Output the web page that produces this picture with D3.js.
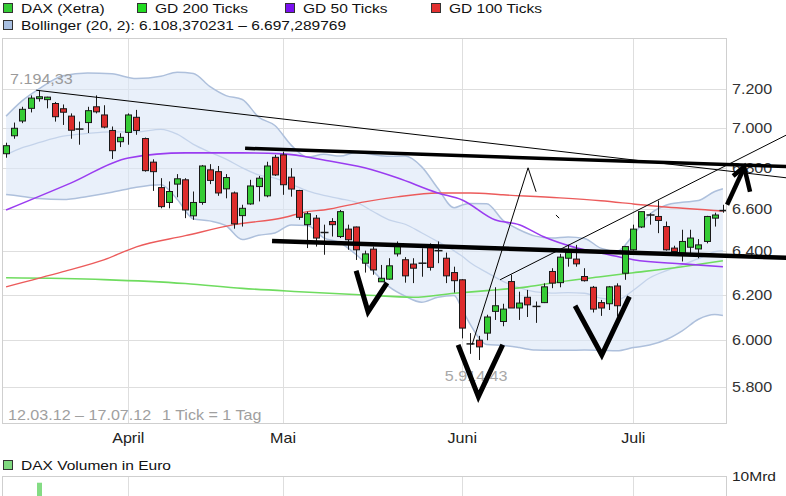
<!DOCTYPE html>
<html><head><meta charset="utf-8">
<script src="https://cdn.jsdelivr.net/npm/d3@7"></script>
<style>body{margin:0;background:#fff}svg{display:block;font-family:"Liberation Sans",Arial,sans-serif}</style>
</head><body><svg id="c" width="786" height="496"></svg>
<script>
// ---------- DATA ----------
const dates = ["12.03.","13.03.","14.03.","15.03.","16.03.","19.03.","20.03.","21.03.","22.03.","23.03.","26.03.","27.03.","28.03.","29.03.","30.03.",
"02.04.","03.04.","04.04.","05.04.","10.04.","11.04.","12.04.","13.04.","16.04.","17.04.","18.04.","19.04.","20.04.","23.04.","24.04.","25.04.","26.04.","27.04.","30.04.",
"02.05.","03.05.","04.05.","07.05.","08.05.","09.05.","10.05.","11.05.","14.05.","15.05.","16.05.","17.05.","18.05.","21.05.","22.05.","23.05.","24.05.","25.05.","28.05.","29.05.","30.05.","31.05.",
"01.06.","04.06.","05.06.","06.06.","07.06.","08.06.","11.06.","12.06.","13.06.","14.06.","15.06.","18.06.","19.06.","20.06.","21.06.","22.06.","25.06.","26.06.","27.06.","28.06.","29.06.",
"02.07.","03.07.","04.07.","05.07.","06.07.","09.07.","10.07.","11.07.","12.07.","13.07.","16.07.","17.07."];
const open  = [6870,6960,7035,7100,7150,7145,7125,7098,7060,6994,7027,7108,7066,6987,6930,6977,7054,6946,6828,6703,6631,6720,6741,6567,6631,6790,6781,6697,6677,6568,6624,6708,6663,6852,6864,6754,6689,6525,6556,6488,6540,6469,6504,6514,6345,6410,6260,6272,6388,6361,6341,6345,6422,6403,6368,6302,6269,5984,6000,6031,6127,6082,6261,6142,6190,6149,6166,6307,6256,6368,6364,6284,6235,6166,6161,6241,6299,6407,6514,6571,6564,6516,6415,6391,6419,6411,6446,6556,6592];
const high  = [6925,7027,7108,7167,7194.33,7160,7133,7120,7074,7032,7108,7167,7116,7007,6973,7074,7092,6951,6842,6749,6733,6769,6749,6684,6814,6818,6809,6769,6684,6620,6741,6760,6830,6864,6880,6798,6692,6587,6571,6525,6556,6595,6525,6516,6403,6422,6337,6368,6446,6373,6368,6414,6437,6446,6394,6329,6272,6031,6019,6112,6235,6161,6292,6215,6223,6171,6253,6322,6388,6430,6430,6322,6241,6178,6241,6253,6425,6525,6587,6579,6640,6540,6426,6501,6501,6457,6567,6582,6620];
const low   = [6850,6945,7024,7079,7135,7100,7032,7015,6945,6915,6974,7074,6998,6844,6903,6915,6965,6781,6687,6603,6603,6656,6556,6548,6620,6720,6663,6651,6506,6516,6620,6636,6656,6760,6668,6659,6548,6415,6422,6384,6469,6462,6407,6360,6302,6292,6260,6269,6376,6256,6254,6283,6311,6345,6254,6211,6008,5941,5914.43,6000,6089,6061,6142,6089,6102,6076,6164,6231,6235,6329,6329,6261,6122,6107,6133,6104,6269,6403,6509,6525,6485,6403,6391,6353,6391,6368,6437,6516,6582];
const close = [6910,6998,7095,7153,7160,7158,7057,7080,6988,6994,7088,7082,7004,6885,6952,7066,6987,6786,6781,6611,6684,6746,6595,6631,6809,6738,6677,6752,6529,6603,6711,6749,6809,6765,6717,6696,6560,6577,6462,6488,6525,6587,6454,6407,6388,6314,6276,6333,6430,6287,6322,6345,6326,6403,6287,6265,6053,5984,5971,6102,6152,6137,6142,6164,6156,6149,6237,6254,6373,6394,6342,6265,6137,6142,6237,6152,6422,6504,6587,6571,6545,6407,6399,6446,6462,6430,6564,6571,6592];
const volume = [4.6,4.9,5.1,5.3,9.2,4.2,4.4,4.1,4.5,4.3, 3.9,4.0,4.2,4.6,3.8,3.9,4.1,5.2,4.7,5.0, 4.4,4.3,4.8,4.6,4.9,4.2,4.4,4.0,4.7,6.2,
 4.5,4.3,4.8,4.6,4.4,4.2,4.9,4.5,4.7,4.1, 4.3,4.6,4.4,4.8,4.9,5.1,4.6,6.1,4.3,4.5, 4.4,4.2,4.6,4.0,4.7,4.5,5.2,5.6,4.9,4.6,
 4.4,4.2,4.3,4.1,4.4,4.0,6.6,4.5,4.8,4.6, 4.3,4.4,4.7,4.5,4.2,4.6,5.0,4.4,4.3,4.1, 4.2,4.5,4.0,3.9,4.1,4.3,4.4,4.0,3.8];

// moving averages (read at sampled trading-day indices)
const gd200Idx = [0,12,22,29,36,44,50,55,59,64,68,73,77,83,88];
const gd200    = [6278,6270,6252,6230,6215,6200,6190,6208,6220,6237,6260,6283,6301,6329,6356];
const gd50Idx  = [0,8,15,22,29,34,39,44,48,53,56,60,63,66,70,74,77,83,88];
const gd50     = [6595,6726,6849,6874,6874,6869,6839,6800,6751,6677,6643,6548,6525,6468,6416,6384,6361,6342,6329];
const gd100Idx = [0,7,12,16,22,28,34,37,39,44,48,53,57,61,68,73,77,81,88];
const gd100    = [6237,6306,6360,6421,6473,6525,6558,6587,6595,6634,6658,6677,6677,6668,6653,6639,6624,6609,6590];

// Bollinger (20,2)
const bbIdx   = [0,2,4,7,10,13,16,19,21,23,25,27,29,31,33,35,37,39,41,43,45,47,49,51,53,55,56,57,59,61,63,65,67,69,71,73,75,77,79,81,83,85,87,88];
const bbUpper = [7060,7140,7200,7270,7285,7280,7255,7267,7289,7282,7214,7166,7146,7055,7012,6913,6853,6867,6858,6877,6866,6857,6858,6806,6700,6606,6619,6626,6625,6546,6501,6471,6462,6467,6460,6415,6401,6477,6574,6618,6632,6640,6684,6697.289769];
const bbLower = [6670,6660,6650,6645,6660,6680,6705,6717,6647,6552,6543,6520,6455,6475,6486,6524,6521,6463,6440,6384,6311,6238,6195,6168,6190,6198,6135,6068,5981,5977,5968,5957,5956,5956,5957,5956,5954,5968,5979,6002,6041,6092,6113,6108.370231];
const bbMid   = [6865,6900,6925,6958,6972,6980,6980,6992,6968,6917,6878,6843,6800,6765,6749,6719,6687,6665,6649,6631,6589,6548,6527,6487,6445,6402,6377,6347,6303,6262,6234,6214,6209,6211,6208,6186,6178,6222,6277,6310,6337,6366,6398,6403];

const yTicks = [5800,6000,6200,6400,6600,6800,7000,7200];
const months = ["April","Mai","Juni","Juli"];
const monthIdx = [15,34,56,77];

// hand-drawn annotations, in (trading-day index, price)
const trendThin1   = [[3.7,7194],[95.75,6751]];
const trendThickUp = [[29.34,6897],[95.75,6806]];
const trendThickLo = [[32.65,6448],[95.75,6370]];
const trendThin2   = [[60.64,6269],[95.75,6963]];
const spikeLine    = [[57.2,5980],[64.08,6800],[65.06,6683]];
const strayMark    = [[67.5,6571],[67.9,6556]];
const vMarks = [
  [[42.97,6310],[44.44,6125],[46.77,6255]],
  [[55.49,5980],[57.98,5759],[60.97,5980]],
  [[69.85,6152],[73.13,5936],[76.52,6193]]
];
const arrowMarks = [
  [[88.51,6620],[90.6,6800]],
  [[89.25,6760],[90.6,6805],[91.33,6683]]
];

// ---------- DRAW ----------
const svg = d3.select("#c");
svg.append("rect").attr("width",786).attr("height",496).attr("fill","#fff");
const L=2,R=727,T=38,B=423, VT=476, VB=560;
const x = d3.scaleLinear().domain([-0.5, dates.length-0.5]).range([L,R]);
const y = d3.scaleLog().domain([5650,7472]).range([B,T]);
const vy = d3.scaleLinear().domain([0,10]).range([VB,VT]);
const loc = d3.formatLocale({decimal:",",thousands:".",grouping:[3],currency:["","€"]});
const fInt = loc.format(",.0f"), f2 = loc.format(",.2f"), f6 = loc.format(",.6f");
const SX = 1.15;
function label(g, px, py, s, size, color, anchor){
  return g.append("text").attr("transform",`translate(${px},${py}) scale(${SX},1)`)
    .attr("text-anchor",anchor||"start").attr("font-size",size).attr("fill",color).text(s);
}
const px = v => Math.round(v)+0.5;

// gridlines
const grid = svg.append("g").attr("stroke","#dedede").attr("stroke-width",1);
grid.selectAll(".h").data(yTicks).join("line").attr("class","h")
  .attr("x1",L).attr("x2",R).attr("y1",d=>px(y(d))).attr("y2",d=>px(y(d)));
grid.selectAll(".v").data(monthIdx).join("line").attr("class","v")
  .attr("x1",d=>px(x(d))).attr("x2",d=>px(x(d))).attr("y1",T).attr("y2",B);
grid.selectAll(".vv").data(monthIdx).join("line").attr("class","vv")
  .attr("x1",d=>px(x(d))).attr("x2",d=>px(x(d))).attr("y1",VT).attr("y2",496);

// clip
svg.append("clipPath").attr("id","clip").append("rect").attr("x",L).attr("y",T).attr("width",R-L).attr("height",B-T);
const plot = svg.append("g").attr("clip-path","url(#clip)");

// Bollinger band
const bb = bbIdx.map((d,i)=>({i:d,u:bbUpper[i],l:bbLower[i],m:bbMid[i]}));
plot.append("path").datum(bb)
  .attr("d", d3.area().x(d=>x(d.i)).y0(d=>y(d.l)).y1(d=>y(d.u)).curve(d3.curveMonotoneX))
  .attr("fill","#dbe6f7").attr("fill-opacity",0.6);
const lineOf = (key)=>d3.line().x(d=>x(d.i)).y(d=>y(d[key])).curve(d3.curveMonotoneX);
["u","l"].forEach(k=>plot.append("path").datum(bb).attr("d",lineOf(k)).attr("fill","none").attr("stroke","#aec0dc").attr("stroke-width",1.5));
plot.append("path").datum(bb).attr("d",lineOf("m")).attr("fill","none").attr("stroke","#c4d3ea").attr("stroke-width",1.3);

// moving averages
function ma(idx, vals, color, w){
  const d = idx.map((v,i)=>({i:v,v:vals[i]}));
  plot.append("path").datum(d).attr("d",d3.line().x(e=>x(e.i)).y(e=>y(e.v)).curve(d3.curveMonotoneX))
    .attr("fill","none").attr("stroke",color).attr("stroke-width",w);
}
ma(gd200Idx, gd200, "#6fdc5f", 1.6);
ma(gd100Idx, gd100, "#ec5b5b", 1.4);
ma(gd50Idx, gd50, "#9a3cf0", 1.6);

// candles
const candles = dates.map((d,i)=>({i,o:open[i],h:high[i],l:low[i],c:close[i]}));
const cg = plot.append("g");
cg.selectAll(".wick").data(candles).join("line")
  .attr("x1",d=>px(x(d.i))).attr("x2",d=>px(x(d.i)))
  .attr("y1",d=>y(d.h)).attr("y2",d=>y(d.l)).attr("stroke","#1a1a1a").attr("stroke-width",1);
cg.selectAll(".body").data(candles.filter(d=>d.o!==d.c)).join("rect")
  .attr("x",d=>Math.round(x(d.i))-2.5).attr("width",6)
  .attr("y",d=>y(Math.max(d.o,d.c))).attr("height",d=>Math.max(1,y(Math.min(d.o,d.c))-y(Math.max(d.o,d.c))))
  .attr("fill",d=>d.c>d.o?"#35cc35":"#dd2c2c").attr("stroke","#1a1a1a").attr("stroke-width",1);
cg.selectAll(".doji").data(candles.filter(d=>d.o===d.c)).join("line")
  .attr("x1",d=>Math.round(x(d.i))-3.5).attr("x2",d=>Math.round(x(d.i))+4.5)
  .attr("y1",d=>y(d.c)).attr("y2",d=>y(d.c)).attr("stroke","#1a1a1a").attr("stroke-width",1.5);

// frames
svg.append("rect").attr("x",L+0.5).attr("y",T+0.5).attr("width",R-L-1).attr("height",B-T).attr("fill","none").attr("stroke","#cfcfcf");
svg.append("rect").attr("x",L+0.5).attr("y",VT+0.5).attr("width",R-L-1).attr("height",VB-VT).attr("fill","none").attr("stroke","#cfcfcf");

// volume
svg.append("g").selectAll("rect").data(volume).join("rect")
  .attr("x",(d,i)=>Math.round(x(i))-2).attr("width",5)
  .attr("y",d=>vy(d)).attr("height",d=>VB-vy(d)).attr("fill","#84dc84");

// y axis labels
const ya = svg.append("g").attr("transform",`translate(${R},0)`)
  .call(d3.axisRight(y).tickValues(yTicks).tickFormat(fInt).tickSize(0));
ya.select(".domain").remove();
ya.selectAll("text").attr("x",5/SX).attr("transform",`scale(${SX},1)`).attr("font-size",14).attr("fill","#333").attr("font-family","Liberation Sans, Arial, sans-serif");

// month labels
const xa = svg.append("g").attr("transform",`translate(0,${B})`)
  .call(d3.axisBottom(x).tickValues(monthIdx).tickFormat((d,i)=>months[i]).tickSize(0));
xa.select(".domain").remove();
xa.selectAll("text").attr("y",10).attr("transform",`scale(${SX},1)`)
  .attr("x",d=>x(d)*(1/SX) - x(d)*(1/SX) ) ;
xa.selectAll(".tick").each(function(d){
  d3.select(this).attr("transform",`translate(${x(d)},0)`);
});
xa.selectAll("text").attr("font-size",14).attr("fill","#222").attr("font-family","Liberation Sans, Arial, sans-serif");

// texts in plot
const tg = svg.append("g");
const hiIdx = d3.maxIndex(high), loIdx = d3.minIndex(low);
label(tg, x(hiIdx)-28.6, y(high[hiIdx])-6, f2(high[hiIdx]), 14, "#9a9a9a");
label(tg, x(loIdx)-33.7, y(low[loIdx])+21, f2(low[loIdx]), 14, "#a8a8a8");
label(tg, 8, 420, `${dates[0]}12 – ${dates[dates.length-1]}12`, 14, "#a0a0a0");
label(tg, 162, 420, "1 Tick = 1 Tag", 14, "#a0a0a0");

// legend
const lg = svg.append("g");
const legendItems = [
  {t:"DAX (Xetra)", c:"#35cc35", x:3},
  {t:"GD 200 Ticks", c:"#22dd22", x:137},
  {t:"GD 50 Ticks", c:"#7a10f0", x:285},
  {t:"GD 100 Ticks", c:"#e23030", x:431}
];
legendItems.forEach(it=>{
  lg.append("rect").attr("x",it.x+0.5).attr("y",3.5).attr("width",9).attr("height",9).attr("fill",it.c).attr("stroke","#333");
  label(lg, it.x+18, 13, it.t, 13.5, "#111");
});
lg.append("rect").attr("x",3.5).attr("y",20.5).attr("width",9).attr("height",9).attr("fill","#a9c0e2").attr("stroke","#333");
label(lg, 21, 30, `Bollinger (20, 2): ${f6(bbLower[bbLower.length-1])} – ${f6(bbUpper[bbUpper.length-1])}`, 13.5, "#111");
lg.append("rect").attr("x",3.5).attr("y",460.5).attr("width",9).attr("height",9).attr("fill","#7fd97f").attr("stroke","#333");
label(lg, 21, 470, "DAX Volumen in Euro", 13.5, "#111");
label(lg, 732, 481, "10Mrd", 13.5, "#222");

// annotations
const ag = svg.append("g").attr("fill","none").attr("stroke","#000");
const pl = d3.line().x(d=>x(d[0])).y(d=>y(d[1]));
ag.append("path").attr("d",pl(trendThin1)).attr("stroke-width",1);
ag.append("path").attr("d",pl(trendThin2)).attr("stroke-width",1);
ag.append("path").attr("d",pl(spikeLine)).attr("stroke-width",1);
ag.append("path").attr("d",pl(strayMark)).attr("stroke-width",1);
ag.append("path").attr("d",pl(trendThickUp)).attr("stroke-width",3.5);
ag.append("path").attr("d",pl(trendThickLo)).attr("stroke-width",4.5);
vMarks.forEach(v=>ag.append("path").attr("d",pl(v)).attr("stroke-width",5).attr("stroke-linejoin","miter"));
arrowMarks.forEach(v=>ag.append("path").attr("d",pl(v)).attr("stroke-width",4.5).attr("stroke-linejoin","miter"));
</script></body></html>
